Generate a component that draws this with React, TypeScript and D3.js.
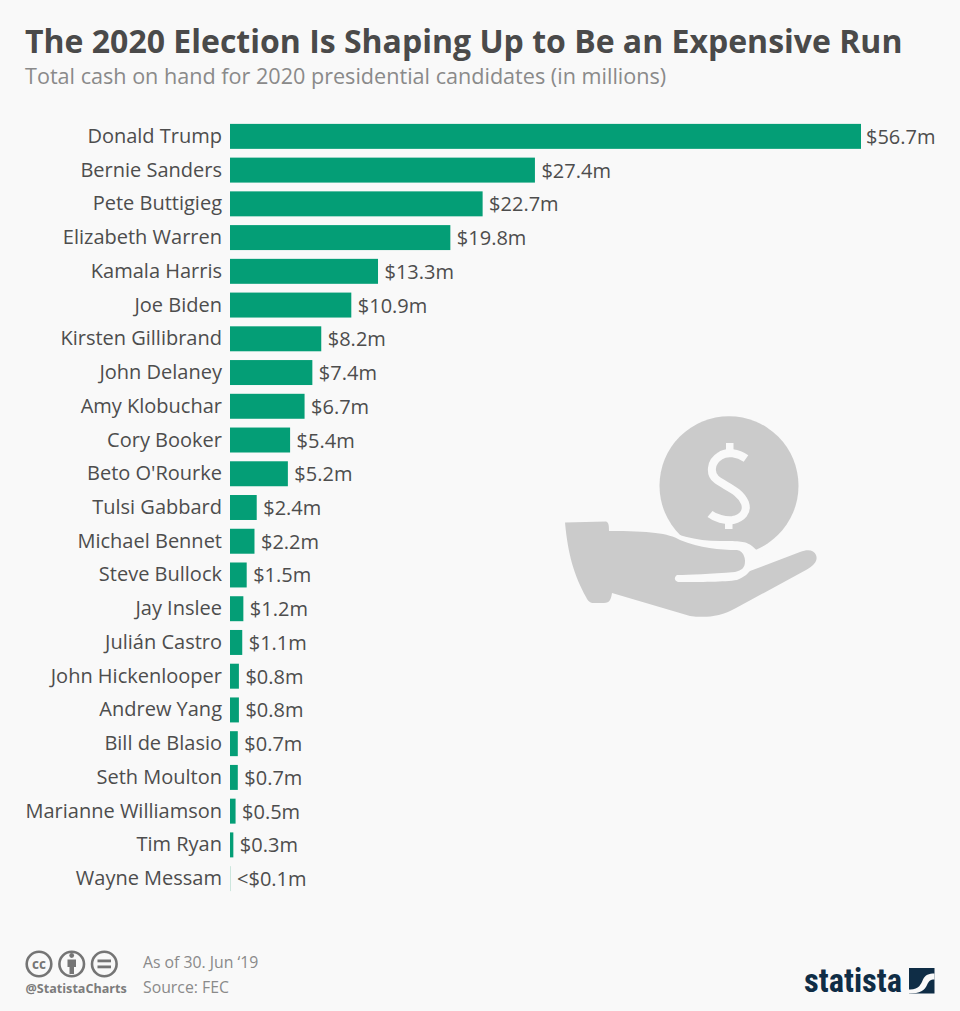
import React from "react";
import * as d3 from "d3";

const candidates = ["Donald Trump","Bernie Sanders","Pete Buttigieg","Elizabeth Warren","Kamala Harris","Joe Biden","Kirsten Gillibrand","John Delaney","Amy Klobuchar","Cory Booker","Beto O'Rourke","Tulsi Gabbard","Michael Bennet","Steve Bullock","Jay Inslee","Julián Castro","John Hickenlooper","Andrew Yang","Bill de Blasio","Seth Moulton","Marianne Williamson","Tim Ryan","Wayne Messam"];
const cash = [56.7,27.4,22.7,19.8,13.3,10.9,8.2,7.4,6.7,5.4,5.2,2.4,2.2,1.5,1.2,1.1,0.8,0.8,0.7,0.7,0.5,0.3,0.05];
const cashLabels = ["$56.7m","$27.4m","$22.7m","$19.8m","$13.3m","$10.9m","$8.2m","$7.4m","$6.7m","$5.4m","$5.2m","$2.4m","$2.2m","$1.5m","$1.2m","$1.1m","$0.8m","$0.8m","$0.7m","$0.7m","$0.5m","$0.3m","<$0.1m"];

const BG = "#f9f9f9";
const FONT = "'Open Sans', sans-serif";
const ICON = "#cbcbcb";

const x = d3.scaleLinear().domain([0, 56.7]).range([230, 861]);
const y = d3.scaleBand<string>().domain(candidates).range([119.5, 895.5]).paddingInner(0.26).paddingOuter(0.13);

const coinCut = "M655,525 C675,535 695,541 720,541 C740,541 745,541 752,546 L762,555 L770,640 L600,640 L590,525 Z";
const hand = "M565,522.5 L606,521.5 C609,522 609,527 609,531 C650,531 668,533 680,540 C700,548 720,550 737,550 C745,551 745,561 745,561 C745,568 742,570 735,572 C710,574 690,575 677,575 C674,577 674,581 678,582 C700,582 725,582 737,580 C745,577 748,573 750,571 L800,552 C808,549 814,550 816,555 C818,560 815,565 806,570 L736,608 C720,617 705,618 690,616 L612,593 C611,599 610,603 604,603 L594,603 C590,603 588,601 586,597 C574,575 568,555 565,522.5 Z";

export default function App() {
  return (
    <svg width={960} height={1011} viewBox="0 0 960 1011" style={{ position: "absolute", left: 0, top: 0, background: BG, fontFamily: FONT }}>
      <rect width={960} height={1011} fill={BG} />
      <text x={25} y={53} fontSize={32} fontWeight={700} fill="#4a4a4a">The 2020 Election Is Shaping Up to Be an Expensive Run</text>
      <text x={25} y={84} fontSize={21.6} fill="#8a8a8a">Total cash on hand for 2020 presidential candidates (in millions)</text>

      {/* icon */}
      <circle cx={729} cy={485.7} r={69.5} fill={ICON} />
      <path d={coinCut} fill={BG} />
      <path d="M746,458.5 C738,453 727,451 720,456 C710,462 710,474 716,479 C724,486 740,490 745,503 C748,512 742,518 733,520 C725,521 715,518 710,514" fill="none" stroke={BG} strokeWidth={8} />
      <rect x={726} y={443} width={7.5} height={10} fill={BG} />
      <rect x={725} y={519} width={7.5} height={10} fill={BG} />
      <path d={hand} fill={ICON} />

      {/* bars */}
      {candidates.map((name, i) => {
        const by = y(name)!;
        const h = y.bandwidth();
        const cy = by + h / 2;
        const isTiny = cash[i] < 0.1;
        return (
          <g key={name}>
            <text x={222} y={cy + 6.5} textAnchor="end" fontSize={20} fill="#4d4d4d">{name}</text>
            <rect x={x(0)} y={by} width={x(cash[i]) - x(0)} height={h} fill={isTiny ? "#a9d8c8" : "#049e76"} />
            <text x={Math.min(x(cash[i]) + 6.5, 866)} y={cy + 7.5} fontSize={20} fill="#4d4d4d">{cashLabels[i]}</text>
          </g>
        );
      })}

      {/* footer */}
      {[39, 71.7, 104.3].map((cx) => (
        <circle key={cx} cx={cx} cy={964} r={12.3} fill="none" stroke="#757575" strokeWidth={2.6} />
      ))}
      <text x={39} y={968.5} textAnchor="middle" fontSize={13.5} fontWeight={700} fill="#757575">cc</text>
      <circle cx={71.7} cy={955.5} r={2.4} fill="#757575" />
      <path d="M67.5,959.5 H76 V967 H74 V974 H69.5 V967 H67.5 Z" fill="#757575" />
      <rect x={97.5} y={959.5} width={13.5} height={2.8} fill="#757575" />
      <rect x={97.5} y={965.5} width={13.5} height={2.8} fill="#757575" />
      <text x={25.5} y={993} fontSize={12.6} fontWeight={700} fill="#7c7c7c">@StatistaCharts</text>
      <text x={143} y={968} fontSize={15.8} fill="#8a8a8a">As of 30. Jun ‘19</text>
      <text x={143} y={993} fontSize={15.8} fill="#8a8a8a">Source: FEC</text>

      {/* logo */}
      <text x={804} y={992} fontSize={34} fontWeight={700} fill="#0f2d46" fontFamily="'Liberation Sans Narrow','Roboto Condensed','Liberation Sans',sans-serif" textLength={98} lengthAdjust="spacingAndGlyphs">statista</text>
      <rect x={909} y={968} width={25.5} height={25.5} fill="#0f2d46" />
      <path d="M909,989.5 C919,990 921,984 923,979.5 C925,975 929,973.5 934.5,973.5 L934.5,979.5 C930,979.5 929,981 927,985 C925,990 920,993.5 909,993.5 Z" fill={BG} />
    </svg>
  );
}
